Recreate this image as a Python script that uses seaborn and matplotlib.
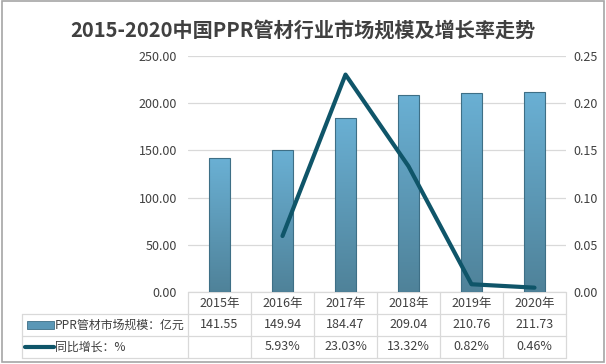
import matplotlib
matplotlib.use("Agg")
import matplotlib.pyplot as plt
import matplotlib.transforms as mtransforms
from matplotlib.colors import LinearSegmentedColormap
from matplotlib.patches import Rectangle
from matplotlib.lines import Line2D
import numpy as np
import pandas as pd
import seaborn as sns

# data
years = ["2015年", "2016年", "2017年", "2018年", "2019年", "2020年"]
market_size = [141.55, 149.94, 184.47, 209.04, 210.76, 211.73]
growth = [np.nan, 0.0593, 0.2303, 0.1332, 0.0082, 0.0046]
size_labels = ["141.55", "149.94", "184.47", "209.04", "210.76", "211.73"]
growth_labels = ["", "5.93%", "23.03%", "13.32%", "0.82%", "0.46%"]
series_names = ["PPR管材市场规模：亿元", "同比增长：%"]

df = pd.DataFrame({"year": years, "size": market_size, "growth": growth})

sns.set_style("white")
plt.rcParams["font.family"] = ["Noto Sans CJK SC", "DejaVu Sans"]
plt.rcParams["axes.unicode_minus"] = False

txt = "#404040"
grid_c = "#d9d9d9"
line_c = "#0f5569"
bar_cmap = LinearSegmentedColormap.from_list("bar", ["#6ab0d4", "#4f8299"])
fs = 9

fig = plt.figure(figsize=(6.06, 3.64), dpi=100)
ax = fig.add_axes([188 / 606, 72 / 364, 378 / 606, 236 / 364])

sns.barplot(data=df, x="year", y="size", ax=ax, width=0.32,
            color="#5b98b8", edgecolor="#3e6f86", linewidth=0.8, zorder=3)

# gradient fill inside each bar
grad = np.linspace(0, 1, 256).reshape(-1, 1)
for p in ax.patches:
    x0, y0 = p.get_x(), p.get_y()
    w, h = p.get_width(), p.get_height()
    im = ax.imshow(grad, cmap=bar_cmap, aspect="auto",
                   extent=[x0, x0 + w, y0, y0 + h], zorder=2.5)
    im.set_clip_path(p)
    p.set_facecolor("none")

ax.set_xlim(-0.5, 5.5)
ax.set_ylim(0, 250)
ax.set_yticks(np.arange(0, 251, 50))
ax.set_yticklabels([f"{v:.2f}" for v in np.arange(0, 251, 50)], color=txt, fontsize=fs)
ax.yaxis.grid(True, color=grid_c, linewidth=0.9, zorder=0)
ax.set_xticklabels([])
ax.set_xlabel("")
ax.set_ylabel("")
ax.tick_params(axis="y", length=0, pad=8)
ax.tick_params(axis="x", length=0, pad=0)
for s in ax.spines.values():
    s.set_visible(False)

ax2 = ax.twinx()
sns.lineplot(data=df, x="year", y="growth", ax=ax2, color=line_c,
             linewidth=3, sort=False, zorder=4)
ax2.set_ylim(0, 0.25)
ax2.set_yticks(np.arange(0, 0.251, 0.05))
ax2.set_yticklabels([f"{v:.2f}" for v in np.arange(0, 0.251, 0.05)], color=txt, fontsize=fs)
ax2.tick_params(axis="y", length=0, pad=5)
ax2.set_ylabel("")
ax2.set_xlabel("")
for s in ax2.spines.values():
    s.set_visible(False)

# data table below the plot
tr = mtransforms.blended_transform_factory(ax.transData, ax.transAxes)
row_h = 22 / 236
rows_y = [-0.5 * row_h, -1.5 * row_h, -2.5 * row_h]
left_ax = (22 - 188) / 378
for i, yr in enumerate(years):
    ax.text(i, rows_y[0], yr, transform=tr, ha="center", va="center", fontsize=fs, color=txt)
    ax.text(i, rows_y[1], size_labels[i], transform=tr, ha="center", va="center", fontsize=fs, color=txt)
    ax.text(i, rows_y[2], growth_labels[i], transform=tr, ha="center", va="center", fontsize=fs, color=txt)

def tline(xs, ys, trans):
    ax.add_line(Line2D(xs, ys, transform=trans, color=grid_c, linewidth=0.9, clip_on=False))

# horizontal lines
tline([0, 1], [0, 0], ax.transAxes)
for k in (1, 2, 3):
    tline([left_ax, 1], [-k * row_h, -k * row_h], ax.transAxes)
# vertical lines
for i in range(7):
    tline([i - 0.5, i - 0.5], [0, -3 * row_h], tr)
tline([left_ax, left_ax], [-row_h, -3 * row_h], ax.transAxes)

# legend keys inside the table
ax.text((55 - 188) / 378, rows_y[1], series_names[0], transform=ax.transAxes,
        ha="left", va="center", fontsize=8.6, color=txt)
ax.text((55 - 188) / 378, rows_y[2], series_names[1], transform=ax.transAxes,
        ha="left", va="center", fontsize=8.6, color=txt)
key = Rectangle(((27 - 188) / 378, rows_y[1] - 0.018), 27 / 378, 0.036,
                transform=ax.transAxes, facecolor="#5a97b6", edgecolor="#3e6f86",
                linewidth=0.6, clip_on=False)
ax.add_patch(key)
tline_key = Line2D([(25 - 188) / 378, (54 - 188) / 378], [rows_y[2], rows_y[2]],
                   transform=ax.transAxes, color=line_c, linewidth=3, clip_on=False)
ax.add_line(tline_key)

fig.text(0.5, 0.917, "2015-2020中国PPR管材行业市场规模及增长率走势", ha="center", va="center",
         fontsize=14.5, fontweight="bold", color="#404040")

# outer border
fig.add_artist(Rectangle((0.003, 0.006), 0.994, 0.99, transform=fig.transFigure,
                         fill=False, edgecolor="#a6a6a6", linewidth=1.2))

fig.savefig("out.png", dpi=100)
